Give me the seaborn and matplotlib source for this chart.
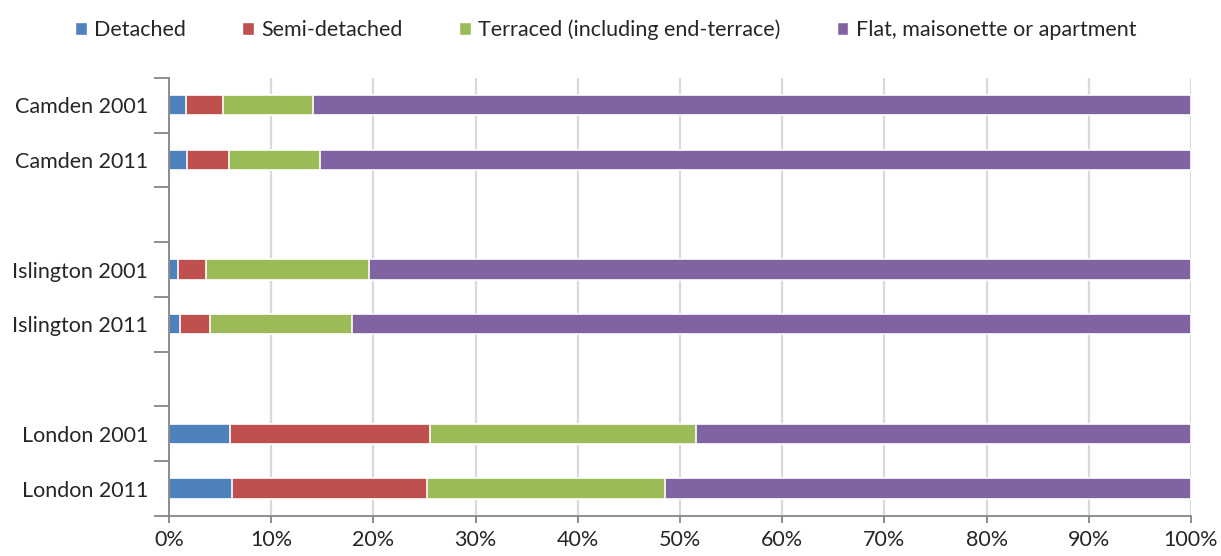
import numpy as np
import pandas as pd
import seaborn as sns
import matplotlib.pyplot as plt
from matplotlib.ticker import FixedLocator, PercentFormatter
from matplotlib.patches import Patch

labels = ["Camden 2001", "Camden 2011", "Islington 2001", "Islington 2011",
          "London 2001", "London 2011"]
detached = [1.7, 1.8, 0.9, 1.1, 6.0, 6.2]
semi = [3.6, 4.1, 2.7, 2.9, 19.5, 19.0]
terraced = [8.8, 8.9, 16.0, 13.9, 26.1, 23.3]
flat = [85.9, 85.2, 80.4, 82.1, 48.4, 51.5]

series = ["Detached", "Semi-detached", "Terraced (including end-terrace)",
          "Flat, maisonette or apartment"]
colors = ["#4F81BD", "#C0504D", "#9BBB59", "#8064A2"]

# blank rows separate the boroughs
order = ["Camden 2001", "Camden 2011", " ", "Islington 2001", "Islington 2011",
         "  ", "London 2001", "London 2011"]

sns.set_style("white")
plt.rcParams["font.family"] = ["Lato", "DejaVu Sans"]

df = pd.DataFrame({"label": labels, "Detached": detached, "Semi-detached": semi,
                   "Terraced (including end-terrace)": terraced,
                   "Flat, maisonette or apartment": flat})
cum = df[series].cumsum(axis=1)
cum = cum.div(cum[series[-1]], axis=0) * 100
cum["label"] = df["label"]

fig = plt.figure(figsize=(12.21, 5.56), dpi=100)
ax = fig.add_axes([0.1384, 0.072, 0.837, 0.788])

for s, c in reversed(list(zip(series, colors))):
    sns.barplot(data=cum, x=s, y="label", order=order, color=c, orient="h",
                width=0.37, edgecolor="white", linewidth=1.2, saturation=1, ax=ax)

ax.set_xlim(0, 100)
ax.set_ylim(7.5, -0.5)
ax.set_xlabel("")
ax.set_ylabel("")
ax.xaxis.set_major_locator(FixedLocator(np.arange(0, 101, 10)))
ax.xaxis.set_major_formatter(PercentFormatter(decimals=0))
ax.grid(axis="x", color="#d9d9d9", linewidth=1.6)
ax.set_axisbelow(True)
for side in ["top", "right"]:
    ax.spines[side].set_visible(False)
for side in ["left", "bottom"]:
    ax.spines[side].set_color("#868686")
    ax.spines[side].set_linewidth(1.3)

fs = 15.5
ax.yaxis.set_minor_locator(FixedLocator(np.arange(-0.5, 8, 1)))
ax.tick_params(axis="y", which="major", length=0, pad=15, labelsize=fs)
ax.tick_params(axis="y", which="minor", length=11, width=1.3, color="#868686", left=True)
ax.tick_params(axis="x", which="major", length=5, width=1.3, color="#868686",
               bottom=True, pad=5, labelsize=fs)

handles = [Patch(facecolor=c, label=s) for s, c in zip(series, colors)]
fig.legend(handles=handles, loc="upper center", bbox_to_anchor=(0.496, 1.0), ncol=4,
           frameon=False, fontsize=fs, handlelength=0.55, handleheight=0.55,
           handletextpad=0.35, columnspacing=2.6)

fig.savefig("out.png", dpi=100)
